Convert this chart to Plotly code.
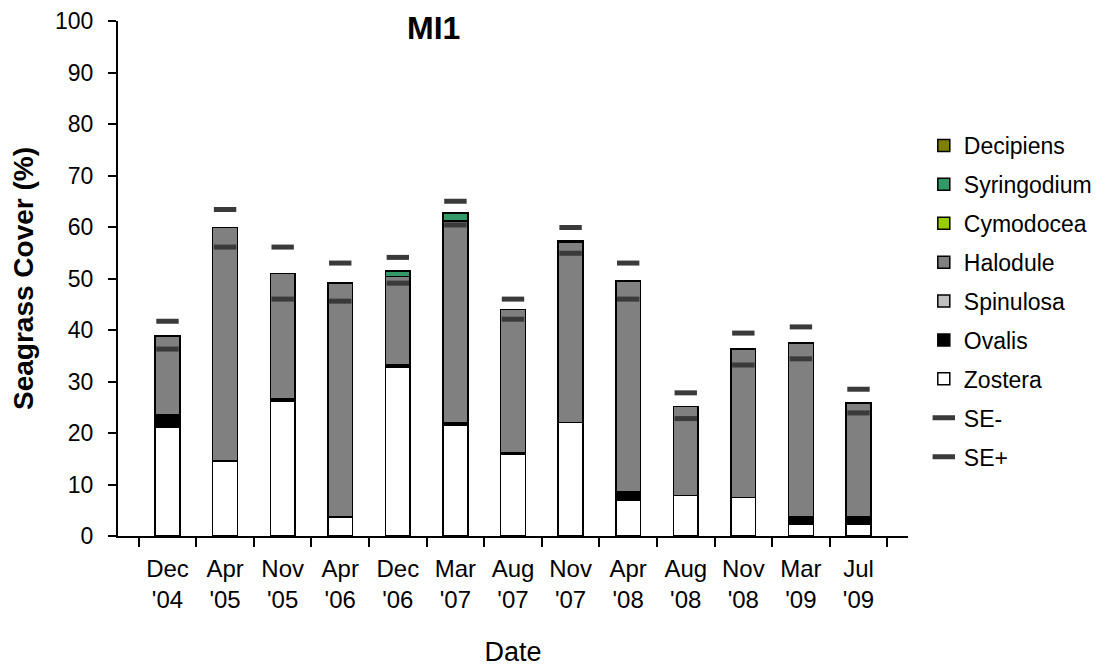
import plotly.graph_objects as go

dates = ["Dec<br>'04", "Apr<br>'05", "Nov<br>'05", "Apr<br>'06", "Dec<br>'06", "Mar<br>'07",
         "Aug<br>'07", "Nov<br>'07", "Apr<br>'08", "Aug<br>'08", "Nov<br>'08", "Mar<br>'09", "Jul<br>'09"]

zostera     = [21.2, 14.6, 26.2, 3.7, 32.8, 21.6, 15.8, 22.0, 7.0, 7.9, 7.5, 2.3, 2.3]
ovalis      = [2.4, 0.0, 0.5, 0.0, 0.5, 0.4, 0.4, 0.0, 1.5, 0.0, 0.0, 1.4, 1.4]
spinulosa   = [0.0, 0.0, 0.0, 0.0, 0.0, 0.0, 0.0, 0.0, 0.0, 0.0, 0.0, 0.0, 0.0]
halodule    = [15.2, 45.3, 24.3, 45.4, 17.1, 39.2, 27.8, 35.0, 41.0, 17.2, 28.8, 33.8, 22.1]
cymodocea   = [0.0, 0.0, 0.0, 0.0, 0.0, 0.0, 0.0, 0.0, 0.0, 0.0, 0.0, 0.0, 0.0]
syringodium = [0.0, 0.0, 0.0, 0.0, 1.1, 1.5, 0.0, 0.3, 0.0, 0.0, 0.0, 0.0, 0.0]
decipiens   = [0.0, 0.0, 0.0, 0.0, 0.0, 0.0, 0.0, 0.0, 0.0, 0.0, 0.0, 0.0, 0.0]

se_minus = [36.3, 56.1, 46.0, 45.6, 49.1, 60.4, 42.1, 54.9, 46.0, 22.8, 33.2, 34.4, 23.9]
se_plus  = [41.7, 63.4, 56.1, 53.0, 54.1, 65.0, 46.0, 59.9, 53.0, 27.8, 39.4, 40.6, 28.5]

y_ticks = [0, 10, 20, 30, 40, 50, 60, 70, 80, 90, 100]

FONT = "Liberation Sans, Arial, sans-serif"

fig = go.Figure()

species = [
    ("Zostera", zostera, "#ffffff", 7),
    ("Ovalis", ovalis, "#000000", 6),
    ("Spinulosa", spinulosa, "#c0c0c0", 5),
    ("Halodule", halodule, "#808080", 4),
    ("Cymodocea", cymodocea, "#99cc00", 3),
    ("Syringodium", syringodium, "#339966", 2),
    ("Decipiens", decipiens, "#808000", 1),
]
for name, vals, col, rank in species:
    fig.add_trace(go.Bar(
        x=dates, y=vals, name=name, legendgroup=name, legendrank=rank,
        marker=dict(color=col, line=dict(color="#000000", width=1.5)),
    ))

for name, vals, rank in [("SE-", se_minus, 8), ("SE+", se_plus, 9)]:
    fig.add_trace(go.Scatter(
        x=dates, y=vals, mode="markers", name=name, legendgroup=name, legendrank=rank,
        marker=dict(symbol="line-ew", size=16, line=dict(width=5, color="#3a3a3a"), color="#3a3a3a"),
    ))

fig.update_layout(
    width=1098, height=663,
    barmode="stack", bargap=0.57,
    plot_bgcolor="white", paper_bgcolor="white",
    margin=dict(l=110, r=198, t=13, b=135, autoexpand=False),
    font=dict(family=FONT, size=22, color="#000000"),
    showlegend=True,
    legend=dict(
        x=1.02, y=0.8, xanchor="left", yanchor="top",
        traceorder="grouped", tracegroupgap=6,
        font=dict(size=23, family=FONT), bgcolor="rgba(0,0,0,0)",
        itemwidth=30,
    ),
    annotations=[dict(
        text="<b>MI1</b>", xref="paper", yref="paper",
        x=(433 - 118) / 790, y=1 + 13 / 515, xanchor="center", yanchor="top",
        yshift=0, showarrow=False, font=dict(size=32, family=FONT),
    )],
)

fig.update_xaxes(
    type="category", tickson="boundaries", ticks="outside", ticklen=9, tickwidth=2,
    tickcolor="black", showline=True, linecolor="black", linewidth=2,
    showgrid=False, zeroline=False, automargin=False, ticklabelstandoff=10,
    tickfont=dict(size=24, family=FONT),
    title=dict(text="Date", font=dict(size=27, family=FONT), standoff=30),
)
fig.update_yaxes(
    range=[0, 100], tickvals=y_ticks, ticks="outside", ticklen=8, tickwidth=2,
    tickcolor="black", showline=True, linecolor="black", linewidth=2,
    showgrid=False, zeroline=False, ticklabelstandoff=10, automargin=False,
    tickfont=dict(size=23, family=FONT),
    title=dict(text="<b>Seagrass Cover (%)</b>", font=dict(size=28, family=FONT), standoff=18),
)

fig.write_html("out.html")
